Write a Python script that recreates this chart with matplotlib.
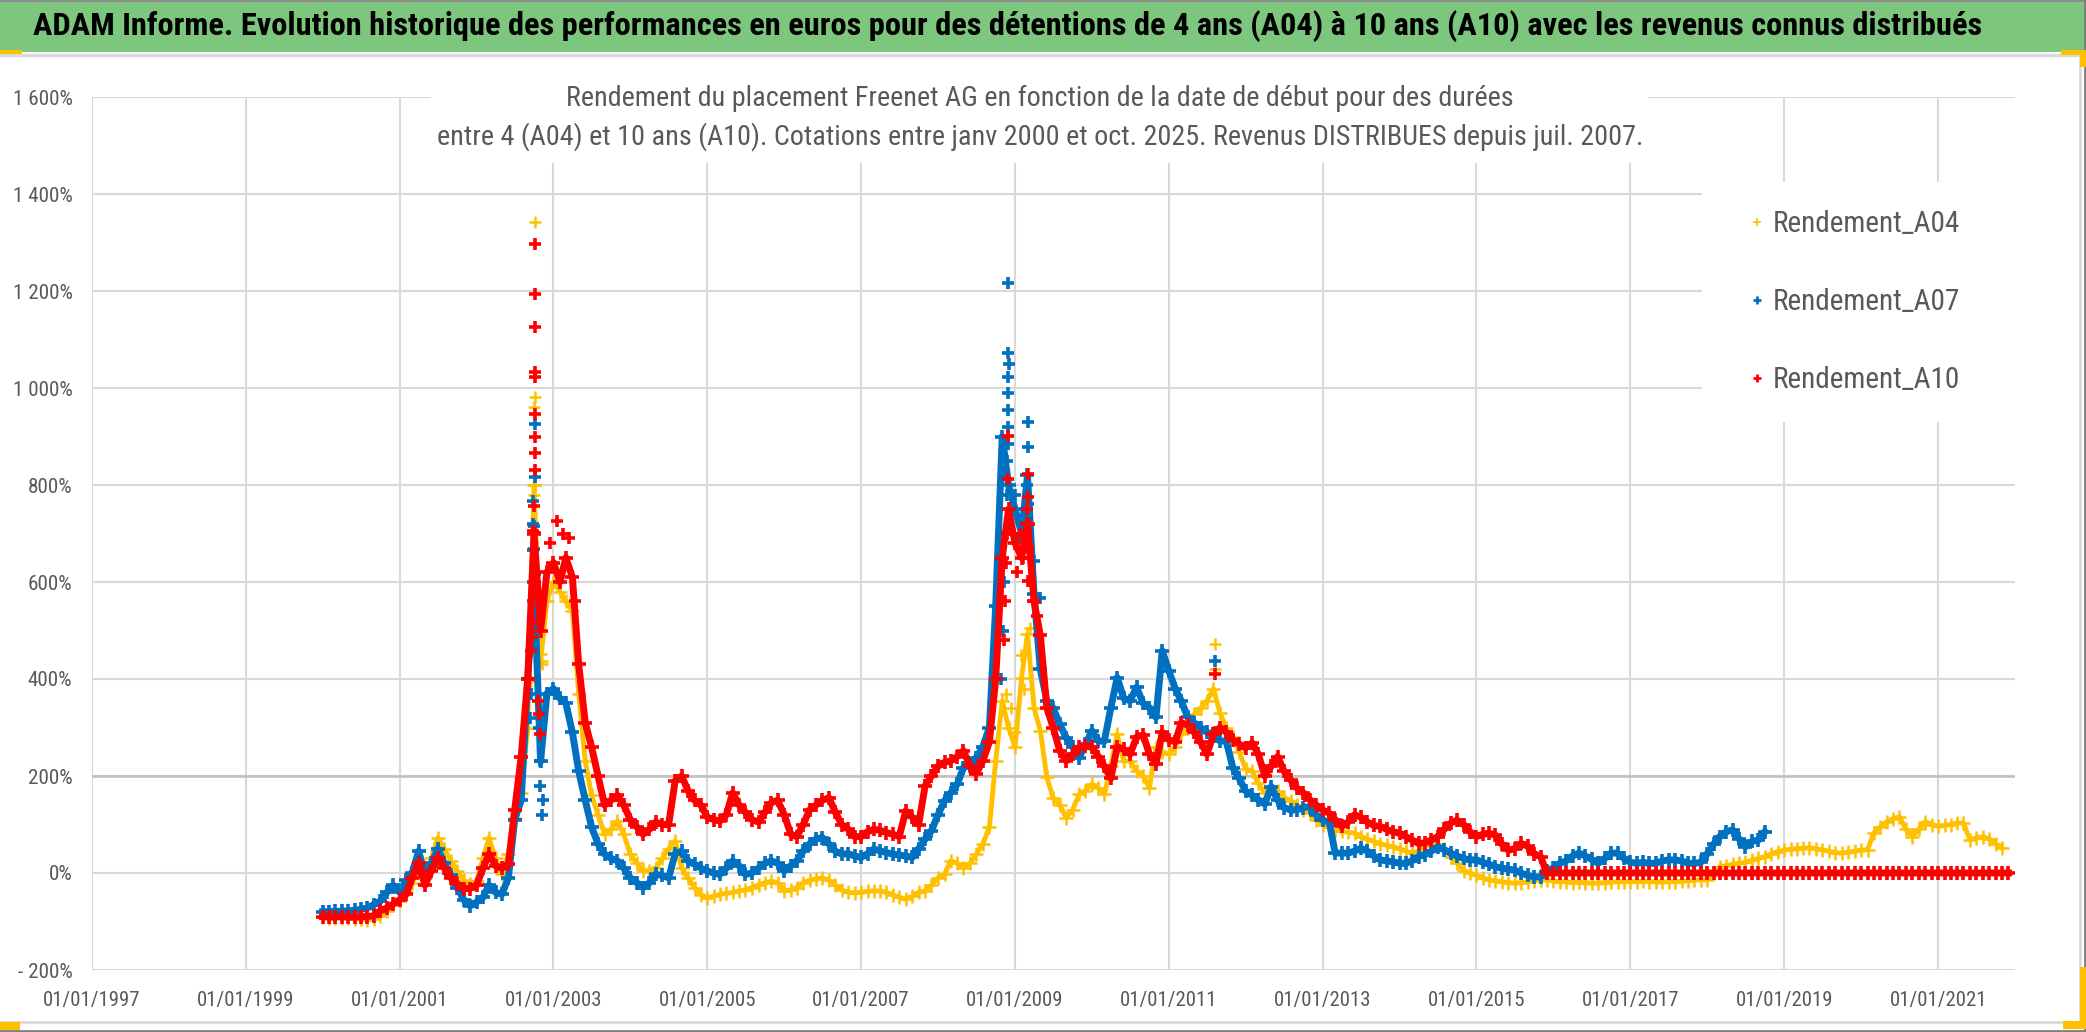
import matplotlib
matplotlib.use("Agg")
import matplotlib.pyplot as plt
import matplotlib.dates as mdates
from matplotlib.patches import Rectangle
from matplotlib.lines import Line2D
from matplotlib.ticker import FuncFormatter, MultipleLocator
import pandas as pd
import datetime as dt

# narrow sans first (Calibri-like), the condensed stretch picks DejaVu Sans Condensed if present
plt.rcParams['font.family'] = ['Roboto Condensed', 'Liberation Sans Narrow', 'Open Sans Condensed', 'DejaVu Sans']
plt.rcParams['font.stretch'] = 'condensed'

# ---- data (rendement en %, one value per month) ----
a04_start = "2000-01-01"
a04_vals = [
    -91, -92, -92, -92, -93, -94, -95, -96, -95, -88, -78, -65,   # 2000
    -58, -40, -20, 5, -10, 30, 73, 50, 25, 5, -15, -23,           # 2001
    -17, 30, 73, 30, -3, 40, 114, 165, 300, 800, 437, 560,        # 2002
    600, 580, 560, 541, 369, 231, 160, 120, 80, 90, 107, 80,      # 2003
    39, 20, 4, 5, 11, 30, 50, 66, 10, -10, -30, -45,              # 2004
    -51, -48, -44, -42, -40, -37, -35, -30, -25, -20, -17, -20,   # 2005
    -37, -35, -30, -20, -15, -12, -10, -15, -25, -35, -40, -41,   # 2006
    -40, -38, -37, -37, -40, -45, -50, -54, -48, -40, -37, -25,   # 2007
    -10, -3, 25, 20, 11, 20, 39, 60, 94, 231, 355, 300,           # 2008
    259, 403, 493, 341, 293, 197, 155, 140, 114, 130, 162, 170,   # 2009
    183, 175, 162, 220, 286, 231, 231, 210, 200, 176, 259, 250,   # 2010
    245, 260, 286, 300, 327, 340, 355, 380, 330, 300, 280, 250,   # 2011
    215, 210, 185, 165, 178, 170, 155, 149, 140, 130, 123, 110,   # 2012
    100, 95, 89, 86, 84, 82, 75, 70, 65, 60, 57, 54,              # 2013
    50, 45, 41, 45, 55, 68, 60, 50, 34, 20, 5, 0,                 # 2014
    -5, -10, -14, -16, -18, -20, -21, -20, -18, -16, -14, -15,    # 2015
    -16, -18, -18, -20, -19, -20, -21, -21, -20, -19, -18, -18,   # 2016
    -18, -18, -17, -18, -18, -19, -18, -18, -17, -16, -15, -14,   # 2017
    -14, 0, 13, 15, 18, 20, 22, 26, 30, 34, 40, 44,               # 2018
    47, 49, 50, 51, 52, 50, 48, 45, 42, 41, 43, 45,               # 2019
    47, 48, 82, 95, 105, 112, 116, 90, 75, 90, 106, 100,          # 2020
    96, 98, 100, 103, 103, 68, 72, 75, 70, 60, 51,                # 2021
]

a07_start = "2000-01-01"
a07_vals = [
    -80, -80, -79, -79, -78, -77, -75, -72, -65, -58, -40, -25,   # 2000
    -40, -15, 0, 45, -3, 20, 50, 20, -5, -30, -55, -68,           # 2001
    -60, -50, -25, -40, -44, -10, 110, 150, 400, 600, 230, 370,   # 2002
    380, 360, 350, 290, 210, 150, 95, 60, 39, 30, 25, 10,         # 2003
    -10, -20, -30, -20, -3, -5, -10, 40, 45, 25, 18, 10,          # 2004
    4, 0, -3, 10, 25, 15, -3, 0, 10, 20, 25, 20,                  # 2005
    4, 15, 25, 45, 60, 70, 73, 60, 45, 39, 40, 35,                # 2006
    32, 40, 49, 46, 42, 39, 37, 35, 32, 50, 70, 87,               # 2007
    120, 149, 165, 183, 217, 225, 238, 260, 300, 550, 900, 800,   # 2008
    750, 700, 820, 575, 420, 355, 340, 307, 279, 260, 238, 265,   # 2009
    293, 272, 272, 341, 403, 360, 355, 383, 350, 341, 321, 458,   # 2010
    417, 380, 355, 321, 310, 300, 290, 286, 272, 272, 217, 195,   # 2011
    169, 160, 151, 142, 178, 150, 135, 130, 130, 135, 137, 120,   # 2012
    109, 105, 41, 41, 41, 45, 51, 45, 35, 27, 25, 23,             # 2013
    20, 20, 25, 34, 38, 45, 54, 48, 41, 35, 30, 27,               # 2014
    27, 22, 18, 13, 10, 8, 6, 0, -5, -8, -8, 5,                   # 2015
    10, 20, 25, 35, 41, 35, 28, 20, 30, 41, 41, 30,               # 2016
    22, 20, 22, 20, 20, 25, 27, 27, 25, 20, 20, 22,               # 2017
    40, 60, 75, 85, 89, 70, 54, 65, 68, 85,                       # 2018
]

a10_start = "2000-01-01"
a10_vals = [
    -90, -91, -91, -90, -91, -91, -90, -90, -88, -78, -72, -64,   # 2000
    -55, -44, -10, 20, -25, 5, 30, 10, -10, -22, -32, -32,        # 2001
    -25, 10, 39, 15, 10, 18, 130, 240, 400, 700, 500, 620,        # 2002
    640, 600, 650, 610, 430, 310, 260, 200, 140, 150, 160, 140,   # 2003
    110, 95, 80, 90, 105, 100, 100, 190, 200, 170, 150, 140,      # 2004
    115, 110, 107, 120, 165, 140, 125, 110, 105, 125, 145, 150,   # 2005
    120, 80, 75, 100, 130, 140, 150, 155, 125, 100, 90, 75,       # 2006
    75, 85, 90, 88, 83, 80, 75, 128, 115, 100, 180, 200,          # 2007
    220, 228, 231, 240, 252, 220, 205, 231, 270, 400, 650, 750,   # 2008
    680, 650, 720, 560, 490, 340, 300, 252, 231, 245, 259, 262,   # 2009
    259, 240, 220, 195, 260, 255, 245, 280, 285, 245, 225, 290,   # 2010
    275, 270, 310, 305, 290, 270, 245, 286, 300, 290, 275, 266,   # 2011
    258, 268, 245, 200, 220, 240, 210, 192, 175, 165, 151, 140,   # 2012
    130, 123, 110, 96, 105, 120, 115, 105, 98, 96, 90, 85,        # 2013
    82, 75, 68, 61, 62, 68, 75, 90, 103, 109, 100, 85,            # 2014
    75, 80, 82, 78, 60, 47, 50, 61, 55, 40, 34,                   # 2015
]
a10_zero_start = "2015-12-01"
a10_zero_vals = [0] * 73   # flat 0 % from Dec 2015 to Dec 2021

# isolated points of the short spikes (decimal year, %)
a04_spike_x = [2002.76, 2002.76, 2002.75, 2002.76, 2002.75, 2002.74, 2002.74, 2002.73, 2002.72, 2002.71,
               2002.84, 2002.85, 2008.88, 2008.95, 2009.0, 2009.08, 2009.12, 2009.19, 2011.6, 2011.6]
a04_spike_y = [1342, 981, 960, 799, 780, 716, 665, 603, 472, 396,
               451, 430, 370, 340, 290, 450, 380, 506, 472, 420]

a07_spike_x = [2002.76, 2002.76, 2002.75, 2002.75, 2002.76, 2002.74, 2002.74, 2002.73, 2002.73, 2002.72,
               2002.71, 2002.70, 2002.81, 2002.82, 2002.83, 2002.85, 2002.86,
               2008.91, 2008.91, 2008.92, 2008.91, 2008.91, 2008.91, 2008.91, 2008.91,
               2008.90, 2008.90, 2008.89, 2008.86, 2008.84, 2008.82, 2009.0, 2009.05,
               2009.16, 2009.17, 2009.17, 2009.17, 2009.24, 2009.32, 2011.6]
a07_spike_y = [926, 816, 716, 668, 617, 768, 720, 665, 561, 475,
               369, 320, 300, 230, 180, 120, 150,
               1216, 1072, 1050, 1022, 989, 954, 919, 885,
               850, 780, 700, 600, 500, 400, 780, 690,
               800, 760, 878, 929, 644, 568, 437]

a10_spike_x = [2002.76, 2002.76, 2002.76, 2002.76, 2002.76, 2002.76, 2002.76, 2002.76, 2002.76,
               2002.75, 2002.76, 2002.74, 2002.73, 2002.72, 2002.71, 2002.80, 2002.81, 2002.82,
               2002.95, 2003.05, 2003.12, 2003.2, 2003.28,
               2008.91, 2008.91, 2008.90, 2008.89, 2008.87, 2008.86, 2009.02, 2009.06, 2009.10,
               2009.16, 2009.17, 2009.17, 2009.18, 2009.17, 2009.17, 2009.25, 2009.28, 2011.6]
a10_spike_y = [1296, 1193, 1125, 1033, 1023, 947, 899, 867, 830,
               757, 702, 706, 517, 486, 458, 355, 327, 286,
               680, 726, 700, 690, 560,
               902, 813, 700, 640, 560, 480, 620, 700, 650,
               750, 823, 776, 720, 671, 603, 560, 530, 410]

series_names = ["Rendement_A04", "Rendement_A07", "Rendement_A10"]
series_colors = ["#FFC000", "#0070C0", "#FF0000"]

title = ("ADAM Informe. Evolution historique des performances en euros pour des détentions "
         "de 4 ans (A04) à 10 ans (A10) avec les revenus connus distribués")
subtitle1 = "Rendement du placement Freenet AG en fonction de la date de début pour des durées"
subtitle2 = ("entre 4 (A04) et 10 ans (A10). Cotations entre janv 2000 et oct. 2025. "
             "Revenus DISTRIBUES depuis juil. 2007.")
x_ticks = [dt.datetime(y, 1, 1) for y in range(1997, 2022, 2)]


def monthly(start, vals):
    return pd.date_range(start, periods=len(vals), freq="MS")


def dec_year(values):
    out = []
    for y in values:
        yr = int(y)
        out.append(dt.datetime(yr, 1, 1) + dt.timedelta(days=(y - yr) * 365.25))
    return out


W, H = 2086, 1032
fig = plt.figure(figsize=(W / 100, H / 100), dpi=100)
fig.patch.set_facecolor("white")
renderer = fig.canvas.get_renderer()


def fx(x):
    return x / W


def fy(y):
    return 1 - y / H


def size_for(sample, width_px, weight="normal"):
    # font size that gives the sample text the width measured on the reference
    t = fig.text(0, 0, sample, fontsize=20, fontweight=weight)
    w = t.get_window_extent(renderer).width
    t.remove()
    return 20 * width_px / w


# title band and chart frame
fig.patches.append(Rectangle((0, fy(52)), 1, 52 / H, transform=fig.transFigure,
                             facecolor="#7DC67D", edgecolor="none", zorder=0))
fig.add_artist(Line2D([0, 1], [fy(0.8), fy(0.8)], color="#8C8C8C", lw=1.5))
fig.add_artist(Line2D([0, fx(2080)], [fy(55), fy(55)], color="#D9D9D9", lw=2.5))
fig.add_artist(Line2D([fx(2080), fx(2080)], [fy(55), fy(1022)], color="#D9D9D9", lw=2))
fig.add_artist(Line2D([0, fx(2080)], [fy(1022), fy(1022)], color="#D9D9D9", lw=2))
fig.add_artist(Line2D([0, 1], [fy(1031), fy(1031)], color="#7F7F7F", lw=2))
fig.add_artist(Line2D([fx(2085), fx(2085)], [fy(0), fy(1032)], color="#7F7F7F", lw=2))

# yellow selection handles
for x0, y0, w, h in [(0, 50, 22, 4), (2061, 50, 25, 5), (2080, 50, 6, 17),
                     (2080, 967, 6, 60), (2063, 1021, 23, 8), (0, 1022, 20, 8)]:
    fig.patches.append(Rectangle((fx(x0), fy(y0 + h)), w / W, h / H, transform=fig.transFigure,
                                 facecolor="#FFC000", edgecolor="none", zorder=3))

fig.text(fx(1008), fy(26), title, ha="center", va="center",
         fontsize=size_for(title, 1945, "bold"), fontweight="bold", color="black")

ax = fig.add_axes([fx(92), fy(970), (2015 - 92) / W, (970 - 97) / H])
ax.set_facecolor("white")
for s in ax.spines.values():
    s.set_visible(False)
ax.set_axisbelow(True)

ax.set_ylim(-200, 1600)
ax.yaxis.set_major_locator(MultipleLocator(200))


def pct(v, pos):
    s = f"{abs(v):,.0f}".replace(",", " ") + "%"
    return "- " + s if v < 0 else s


ax.yaxis.set_major_formatter(FuncFormatter(pct))

ax.set_xlim(dt.datetime(1997, 1, 1), dt.datetime(2022, 1, 1))
ax.set_xticks(x_ticks)
ax.xaxis.set_major_formatter(mdates.DateFormatter("%d/%m/%Y"))

ax.grid(True, color="#D9D9D9", lw=1.5)
ax.axhline(200, color="#BFBFBF", lw=1.8, zorder=0.6)
ax.tick_params(length=0, colors="#595959")
ax.tick_params(axis="x", labelsize=size_for("01/01/2019", 97), pad=15)
ax.tick_params(axis="y", labelsize=size_for("1 600%", 60), pad=14)

# white boxes behind subtitle and legend (they cut the gridlines)
ax.add_patch(Rectangle((fx(431), fy(163)), (1648 - 431) / W, (163 - 60) / H,
                       transform=fig.transFigure, facecolor="white", edgecolor="none",
                       zorder=1.5, clip_on=False))
ax.add_patch(Rectangle((fx(1702), fy(422)), (2022 - 1702) / W, (422 - 182) / H,
                       transform=fig.transFigure, facecolor="white", edgecolor="none",
                       zorder=1.5, clip_on=False))

month_x = [monthly(a04_start, a04_vals), monthly(a07_start, a07_vals),
           list(monthly(a10_start, a10_vals)) + list(monthly(a10_zero_start, a10_zero_vals))]
month_y = [a04_vals, a07_vals, a10_vals + a10_zero_vals]
spike_x = [dec_year(a04_spike_x), dec_year(a07_spike_x), dec_year(a10_spike_x)]
spike_y = [a04_spike_y, a07_spike_y, a10_spike_y]
mews = [1.8, 2.6, 2.6]
band_lw = [3.5, 5.0, 5.0]

for i, c in enumerate(series_colors):
    z = 2 + i * 0.1
    ax.plot(month_x[i], month_y[i], linestyle="-", lw=band_lw[i], marker="+", ms=10,
            mew=mews[i], color=c, zorder=z, solid_joinstyle="round")
    ax.plot(spike_x[i], spike_y[i], linestyle="none", marker="+", ms=8, mew=mews[i],
            color=c, zorder=z)

sub_size = size_for(subtitle2, 1203)
fig.text(fx(1040), fy(98), subtitle1, ha="center", va="center", fontsize=sub_size, color="#595959")
fig.text(fx(1040), fy(137), subtitle2, ha="center", va="center", fontsize=sub_size, color="#595959")

leg_size = size_for("Rendement_A04", 188)
handles = [Line2D([], [], linestyle="none", marker="+", ms=6, mew=m, color=c)
           for c, m in zip(series_colors, [1.2, 2, 2])]
leg = ax.legend(handles, series_names, loc="center left", bbox_to_anchor=(fx(1735), fy(302)),
                bbox_transform=fig.transFigure, frameon=False, fontsize=leg_size, borderpad=0,
                handlelength=0.5, handletextpad=0.3, labelspacing=1.7)
for t in leg.get_texts():
    t.set_color("#595959")
leg.set_zorder(3)

fig.savefig("out.png", dpi=100)
